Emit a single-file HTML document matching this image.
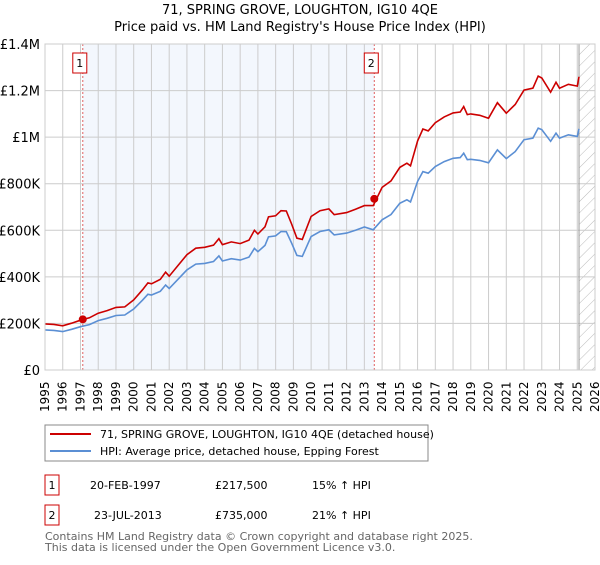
<!DOCTYPE html>
<html><head><meta charset="utf-8"><style>
body{margin:0;background:#fff;font-family:"Liberation Sans","DejaVu Sans",sans-serif;}
svg text{font-family:"DejaVu Sans","Liberation Sans",sans-serif;}
</style></head><body>
<svg id="chart" width="600" height="560" xmlns="http://www.w3.org/2000/svg">
<defs><pattern id="hatch" width="8" height="8" patternUnits="userSpaceOnUse" patternTransform="rotate(45)"><line x1="0" y1="0" x2="0" y2="8" stroke="#bbb" stroke-width="1"/></pattern></defs>
<text x="300" y="14" text-anchor="middle" font-size="13">71, SPRING GROVE, LOUGHTON, IG10 4QE</text>
<text x="300" y="31" text-anchor="middle" font-size="13">Price paid vs. HM Land Registry's House Price Index (HPI)</text>
<g id="plot"></g>
<rect x="45" y="425" width="383" height="36" fill="#fff" stroke="#888"/>
<line x1="50" y1="434" x2="91" y2="434" stroke="#cc0000" stroke-width="2"/>
<text x="100" y="438" font-size="11">71, SPRING GROVE, LOUGHTON, IG10 4QE (detached house)</text>
<line x1="50" y1="451" x2="91" y2="451" stroke="#5b8fd4" stroke-width="2"/>
<text x="100" y="455" font-size="11">HPI: Average price, detached house, Epping Forest</text>
<g font-size="11">
<rect x="45" y="475" width="14" height="20" fill="#fff" stroke="#cc0000"/><text x="52" y="489" text-anchor="middle">1</text>
<text x="90" y="489">20-FEB-1997</text><text x="215" y="489">£217,500</text><text x="312" y="489">15% ↑ HPI</text></g>
<g font-size="11">
<rect x="45" y="505" width="14" height="20" fill="#fff" stroke="#cc0000"/><text x="52" y="519" text-anchor="middle">2</text>
<text x="94" y="519">23-JUL-2013</text><text x="215" y="519">£735,000</text><text x="312" y="519">21% ↑ HPI</text></g>
<text x="45" y="540" font-size="11" fill="#666">Contains HM Land Registry data © Crown copyright and database right 2025.</text>
<text x="45" y="551" font-size="11" fill="#666">This data is licensed under the Open Government Licence v3.0.</text>
</svg>
<script>
const hpiYears=[1995.0,1995.5,1996.0,1996.5,1997.0,1997.5,1998.0,1998.5,1999.0,1999.5,2000.0,2000.5,2000.8,2001.0,2001.5,2001.8,2002.0,2002.5,2003.0,2003.5,2004.0,2004.5,2004.8,2005.0,2005.5,2006.0,2006.5,2006.8,2007.0,2007.4,2007.6,2008.0,2008.3,2008.6,2008.9,2009.2,2009.5,2010.0,2010.5,2011.0,2011.3,2012.0,2012.5,2013.0,2013.5,2014.0,2014.5,2015.0,2015.4,2015.6,2016.0,2016.3,2016.6,2017.0,2017.5,2018.0,2018.4,2018.6,2018.8,2019.0,2019.5,2020.0,2020.5,2021.0,2021.5,2022.0,2022.5,2022.8,2023.0,2023.5,2023.8,2024.0,2024.5,2025.0,2025.1];
const hpiValues=[172,170,165,175,186,195,212,222,234,236,262,300,325,322,338,365,350,390,430,455,458,466,490,468,478,472,485,522,508,535,572,576,595,594,545,492,488,573,595,602,580,588,600,614,602,645,668,716,731,722,810,852,845,874,895,909,912,931,903,905,900,890,945,908,938,989,996,1039,1032,982,1017,996,1010,1003,1036];
const priceValues=[198,196,190,201,214,224,244,255,269,271,301,345,374,370,389,420,403,449,495,523,527,536,564,538,550,543,558,600,584,615,658,662,684,683,627,566,561,659,684,692,667,676,690,706,706,784,812,870,888,877,984,1035,1027,1062,1087,1104,1108,1131,1097,1100,1094,1081,1148,1103,1140,1202,1210,1262,1254,1193,1236,1210,1227,1219,1259];
const saleYears=[1997.13,2013.56];
const saleValues=[217.5,735];
const saleLabels=["1","2"];
const yTicks=[0,200,400,600,800,1000,1200,1400];
const yTickLabels=["£0","£200K","£400K","£600K","£800K","£1M","£1.2M","£1.4M"];
const xStart=1995,xEnd=2026,dataEnd=2025.1;

const X0=45,X1=595,Y0=370,Y1=44;
const sx=t=>X0+(t-xStart)/(xEnd-xStart)*(X1-X0);
const sy=v=>Y0-v/1400*(Y0-Y1);
const NS="http://www.w3.org/2000/svg";
const g=document.getElementById('plot');
function mk(tag,attrs,parent){const e=document.createElementNS(NS,tag);for(const k in attrs)e.setAttribute(k,attrs[k]);(parent||g).appendChild(e);return e;}

const shade=mk('rect',{x:sx(saleYears[0]),y:Y1,width:sx(saleYears[1])-sx(saleYears[0]),height:Y0-Y1,fill:'#eef3fc',opacity:0.7});


const hatch=mk('rect',{x:sx(dataEnd),y:Y1,width:X1-sx(dataEnd),height:Y0-Y1,fill:'url(#hatch)'});


for(let yr=xStart;yr<=xEnd;yr++){
  const l=mk('line',{x1:sx(yr),x2:sx(yr),y1:Y1,y2:Y0,stroke:'#ccc','stroke-width':1});
  
  
  const t=mk('text',{x:0,y:0,'font-size':12,transform:`translate(${sx(yr)+4},${Y0+42}) rotate(-90)`});
  
  
  t.textContent=yr;
}
yTicks.forEach((v,i)=>{
  const l=mk('line',{x1:X0,x2:X1,y1:sy(v),y2:sy(v),stroke:'#ccc','stroke-width':1});
  
  
  const t=mk('text',{x:X0-5,y:sy(v)+5,'text-anchor':'end','font-size':13});
  
  
  t.textContent=yTickLabels[i];
});
const endLine=mk('line',{x1:sx(dataEnd),x2:sx(dataEnd),y1:Y1,y2:Y0,stroke:'#999','stroke-width':1});


saleYears.forEach((yr,i)=>{
  const l=mk('line',{x1:sx(yr),x2:sx(yr),y1:Y1,y2:Y0,stroke:'#e06060','stroke-width':1,'stroke-dasharray':'2,2'});
  
  
  const r=mk('rect',{x:sx(yr)-10,y:53,width:14,height:20,fill:'#fff',stroke:'#cc0000'});
  
  
  const t=mk('text',{x:sx(yr)-3,y:67,'text-anchor':'middle','font-size':11});
  
  
  t.textContent=saleLabels[i];
});
const pts=(vals)=>hpiYears.map((t,i)=>sx(t).toFixed(1)+','+sy(vals[i]).toFixed(1)).join(' ');
const hl=mk('polyline',{points:pts(hpiValues),fill:'none',stroke:'#5b8fd4','stroke-width':1.6});


const pl=mk('polyline',{points:pts(priceValues),fill:'none',stroke:'#cc0000','stroke-width':1.6});


saleYears.forEach((yr,i)=>{
  const c=mk('circle',{cx:sx(yr),cy:sy(saleValues[i]),r:4,fill:'#cc0000'});
  
  
});
const ax=mk('rect',{x:X0,y:Y1,width:X1-X0,height:Y0-Y1,fill:'none',stroke:'#ccc'});


</script>
</body></html>
